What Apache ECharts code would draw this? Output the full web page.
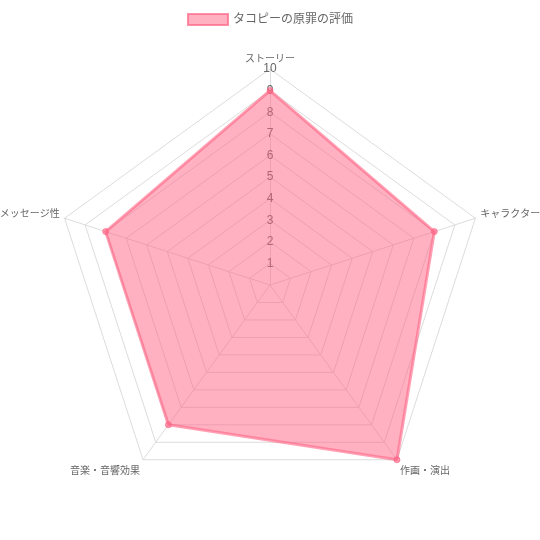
<!DOCTYPE html>
<html>
<head>
<meta charset="utf-8">
<script src="https://cdn.jsdelivr.net/npm/echarts@6/dist/echarts.min.js"></script>
<style>
  html, body { margin: 0; padding: 0; background: #fff; }
  #chart { width: 540px; height: 540px; }
</style>
</head>
<body>
<div id="chart"></div>
<script>
const categories = ['ストーリー', 'キャラクター', '作画・演出', '音楽・音響効果', 'メッセージ性'];
const scores = [9, 8, 10, 8, 8];
const seriesName = 'タコピーの原罪の評価';
const maxScore = 10;

const font = '"Liberation Sans", "Noto Sans CJK JP", sans-serif';
const cx = 270, cy = 285, r = 216;

// echarts radar runs counter-clockwise, the original runs clockwise from the top
const order = [0].concat(categories.map((_, i) => i).slice(1).reverse());

const myChart = echarts.init(document.getElementById('chart'));

const option = {
  animation: false,
  textStyle: { fontFamily: font },
  legend: {
    top: 8,
    left: 'center',
    itemWidth: 40,
    itemHeight: 11,
    itemGap: 10,
    textStyle: { color: '#666', fontSize: 12, fontFamily: font },
    itemStyle: { color: 'rgba(255,99,132,0.5)', borderColor: 'rgba(255,99,132,0.7)', borderWidth: 2 },
    data: [{ name: seriesName, icon: 'rect' }]
  },
  // a value axis standing on the top spoke, only for the 1..10 tick labels
  grid: { left: cx, width: 0, top: cy - r, height: r, containLabel: false },
  xAxis: { type: 'value', show: false },
  yAxis: {
    type: 'value',
    min: 0,
    max: maxScore,
    interval: 1,
    z: 1,
    axisLine: { show: false },
    axisTick: { show: false },
    splitLine: { show: false },
    axisLabel: {
      showMinLabel: false,
      align: 'center',
      margin: 0,
      color: '#666',
      fontSize: 12,
      fontFamily: font
    }
  },
  radar: {
    center: [cx, cy],
    radius: r,
    startAngle: 90,
    shape: 'polygon',
    splitNumber: 10,
    nameGap: 5,
    axisName: {
      color: '#666',
      fontSize: 10,
      fontFamily: font,
      formatter: function (name) {
        const i = categories.indexOf(name);
        if (i === 2 || i === 3) return '{low|' + name + '}';
        if (i === 1 || i === 4) return '{side|' + name + '}';
        return name;
      },
      rich: {
        low: { color: '#666', fontSize: 10, fontFamily: font, padding: [14, 0, 0, 0] },
        side: { color: '#666', fontSize: 10, fontFamily: font, padding: [0, 0, 4, 0] }
      }
    },
    splitLine: { lineStyle: { color: '#dcdcdc', width: 1 } },
    splitArea: { show: false },
    axisLine: { lineStyle: { color: '#dcdcdc', width: 1 } },
    indicator: order.map(i => ({ name: categories[i], max: maxScore, min: 0 }))
  },
  series: [
    {
      name: seriesName,
      type: 'radar',
      z: 2,
      symbol: 'circle',
      symbolSize: 6,
      itemStyle: { color: 'rgba(255,99,132,0.6)', borderColor: 'rgba(255,99,132,0.7)', borderWidth: 1 },
      lineStyle: { color: 'rgba(255,99,132,0.6)', width: 3 },
      areaStyle: { color: 'rgba(255,99,132,0.5)', opacity: 1 },
      data: [{ name: seriesName, value: order.map(i => scores[i]) }]
    }
  ]
};

myChart.setOption(option);
</script>
</body>
</html>
